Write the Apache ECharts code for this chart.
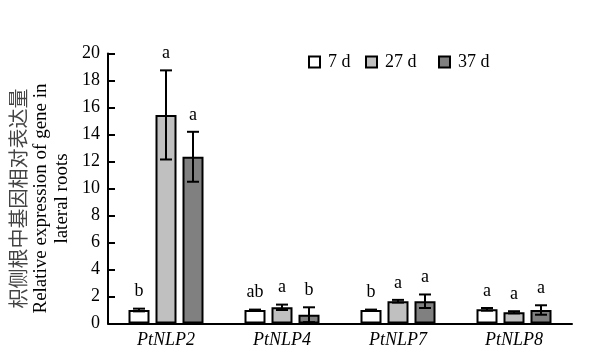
<!DOCTYPE html>
<html>
<head>
<meta charset="utf-8">
<script src="https://cdn.jsdelivr.net/npm/echarts@6/dist/echarts.min.js"></script>
<style>html,body{margin:0;padding:0;background:#fff}#c{width:610px;height:364px}</style>
</head>
<body>
<div id="c"></div>
<script>
const categories = ['PtNLP2', 'PtNLP4', 'PtNLP7', 'PtNLP8'];
const seriesNames = ['7 d', '27 d', '37 d'];
const values7 = [1.0, 1.0, 1.0, 1.05];
const values27 = [15.45, 1.2, 1.65, 0.83];
const values37 = [12.35, 0.65, 1.65, 1.0];
const err7 = [0.1, 0.03, 0.03, 0.1];
const err27 = [3.3, 0.2, 0.1, 0.08];
const err37 = [1.85, 0.55, 0.5, 0.35];
const letters7 = ['b', 'ab', 'b', 'a'];
const letters27 = ['a', 'a', 'a', 'a'];
const letters37 = ['a', 'b', 'a', 'a'];
const yTicks = { min: 0, max: 20, interval: 2 };

const FONT = '"Liberation Serif", "Times New Roman", serif';
const colors = ['#ffffff', '#c0c0c0', '#808080'];
const BAR_W = 21, BAR_GAP = 6, CAP_W = 12;
const allValues = [values7, values27, values37];
const allErr = [err7, err27, err37];
const allLetters = [letters7, letters27, letters37];

const chart = echarts.init(document.getElementById('c'), null, { renderer: 'canvas' });

const barSeries = seriesNames.map((name, i) => ({
  name: name,
  type: 'bar',
  data: allValues[i],
  barWidth: BAR_W,
  barGap: (BAR_GAP / BAR_W * 100) + '%',
  itemStyle: { color: colors[i], borderColor: '#000', borderWidth: 2 },
  emphasis: { disabled: true },
  z: 2
}));

const errSeries = seriesNames.map((name, si) => ({
  type: 'custom',
  name: name + ' err',
  z: 5,
  silent: true,
  data: categories.map((c, k) => [k, allValues[si][k], allErr[si][k]]),
  renderItem: function (params, api) {
    const k = api.value(0), m = api.value(1), e = api.value(2);
    const off = (si - 1) * (BAR_W + BAR_GAP);
    const x = api.coord([k, m])[0] + off;
    const yt = api.coord([k, m + e])[1];
    const yb = api.coord([k, Math.max(m - e, 0)])[1];
    const st = { stroke: '#000', lineWidth: 2 };
    return {
      type: 'group',
      children: [
        { type: 'line', shape: { x1: x, y1: yt, x2: x, y2: yb }, style: st },
        { type: 'line', shape: { x1: x - CAP_W / 2, y1: yt, x2: x + CAP_W / 2, y2: yt }, style: st },
        { type: 'line', shape: { x1: x - CAP_W / 2, y1: yb, x2: x + CAP_W / 2, y2: yb }, style: st },
        { type: 'text', style: { text: allLetters[si][params.dataIndex], x: x, y: yt - 17,
            align: 'center', verticalAlign: 'middle', font: '18px ' + FONT, fill: '#000' } }
      ]
    };
  }
}));

const legendLefts = [308, 365, 438];
const legends = seriesNames.map((n, i) => ({
  data: [n],
  left: legendLefts[i],
  top: 53,
  padding: 0,
  itemWidth: 11,
  itemHeight: 11,
  icon: 'rect',
  selectedMode: false,
  textStyle: { fontFamily: FONT, fontSize: 18, color: '#000', padding: [0, 0, 0, 3] }
}));

chart.setOption({
  animation: false,
  backgroundColor: '#fff',
  legend: legends,
  grid: { left: 108, right: 38, top: 53.5, bottom: 40.5, containLabel: false },
  xAxis: {
    type: 'category',
    data: categories,
    axisLine: { lineStyle: { color: '#000', width: 2 } },
    axisTick: { inside: true, length: 5, lineStyle: { color: '#000', width: 2 } },
    axisLabel: { margin: 8, fontFamily: FONT, fontSize: 18, fontStyle: 'italic', color: '#000' }
  },
  yAxis: {
    type: 'value',
    min: yTicks.min, max: yTicks.max, interval: yTicks.interval,
    splitLine: { show: false },
    axisLine: { show: true, lineStyle: { color: '#000', width: 2 } },
    axisTick: { show: true, inside: true, length: 7, lineStyle: { color: '#000', width: 2 } },
    axisLabel: { margin: 8, fontFamily: FONT, fontSize: 18, color: '#000' },
    name: '{cn|枳侧根中基因相对表达量}\n{en|Relative expression of gene in}\n{en|lateral roots}',
    nameLocation: 'middle',
    nameRotate: 90,
    nameGap: 34,
    nameTextStyle: {
      color: '#000',
      align: 'center',
      padding: [0, 20, 0, 0],
      rich: {
        cn: { fontFamily: '"Noto Sans CJK SC", sans-serif', fontSize: 20, lineHeight: 24, color: '#444' },
        en: { fontFamily: FONT, fontSize: 19, lineHeight: 21, color: '#000' }
      }
    }
  },
  series: barSeries.concat(errSeries)
});
</script>
</body>
</html>
